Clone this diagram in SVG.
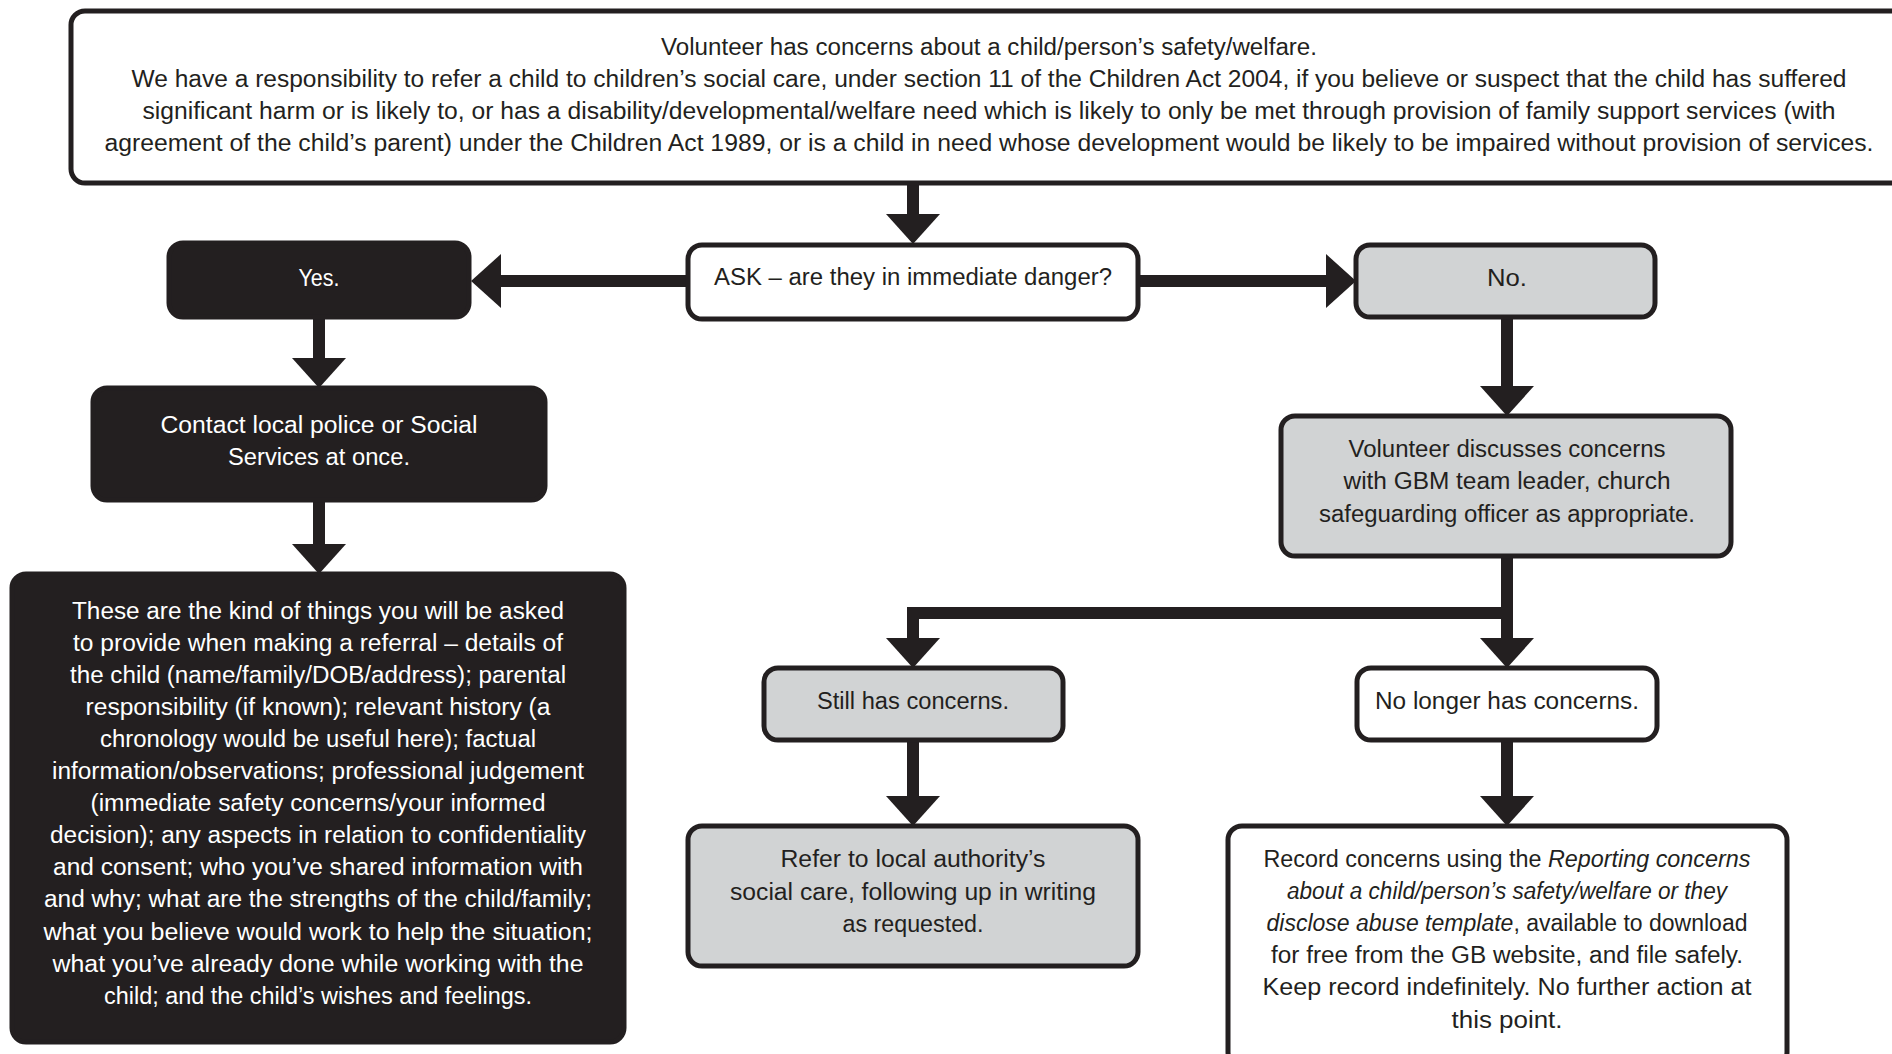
<svg xmlns="http://www.w3.org/2000/svg" width="1892" height="1054" viewBox="0 0 1892 1054">
<style>
.box{stroke:#231f20;stroke-width:5}
.white{fill:#ffffff}
.gray{fill:#d1d3d4}
.dark{fill:#231f20}
text{font-family:"Liberation Sans",Arial,sans-serif;font-size:23px;text-anchor:middle}
.tk{fill:#231f20}
.tw{fill:#ffffff}
.conn{stroke:#231f20;stroke-width:12;fill:none;stroke-linejoin:miter}
</style>
<defs>
<marker id="ah" markerUnits="userSpaceOnUse" markerWidth="32" markerHeight="54" refX="0" refY="27" orient="auto" overflow="visible">
<path d="M0,0 L30,27 L0,54 z" fill="#231f20"/>
</marker>
</defs>
<rect width="1892" height="1054" fill="#ffffff"/>
<g id="connectors">
<line class="conn" x1="913" y1="183" x2="913" y2="214" marker-end="url(#ah)"/>
<line class="conn" x1="688" y1="281" x2="501" y2="281" marker-end="url(#ah)"/>
<line class="conn" x1="1138" y1="281" x2="1326" y2="281" marker-end="url(#ah)"/>
<line class="conn" x1="319" y1="317" x2="319" y2="358" marker-end="url(#ah)"/>
<line class="conn" x1="319" y1="500" x2="319" y2="544" marker-end="url(#ah)"/>
<line class="conn" x1="1507" y1="317" x2="1507" y2="386" marker-end="url(#ah)"/>
<line class="conn" x1="1507" y1="556" x2="1507" y2="638" marker-end="url(#ah)"/>
<path class="conn" d="M1507,613 H913 V638" marker-end="url(#ah)"/>
<line class="conn" x1="913" y1="740" x2="913" y2="796" marker-end="url(#ah)"/>
<line class="conn" x1="1507" y1="740" x2="1507" y2="796" marker-end="url(#ah)"/>
</g>
<g id="top">
<rect class="box white" x="71" y="11" width="1900" height="172" rx="14"/>
<text class="tk" x="989" y="55" textLength="656" lengthAdjust="spacingAndGlyphs">Volunteer has concerns about a child/person’s safety/welfare.</text>
<text class="tk" x="989" y="87" textLength="1715" lengthAdjust="spacingAndGlyphs">We have a responsibility to refer a child to children’s social care, under section 11 of the Children Act 2004, if you believe or suspect that the child has suffered</text>
<text class="tk" x="989" y="119" textLength="1693" lengthAdjust="spacingAndGlyphs">significant harm or is likely to, or has a disability/developmental/welfare need which is likely to only be met through provision of family support services (with</text>
<text class="tk" x="989" y="151" textLength="1769" lengthAdjust="spacingAndGlyphs">agreement of the child’s parent) under the Children Act 1989, or is a child in need whose development would be likely to be impaired without provision of services.</text>
</g>
<g id="ask">
<rect class="box white" x="688" y="245" width="450" height="74" rx="14"/>
<text class="tk" x="913" y="285" textLength="398" lengthAdjust="spacingAndGlyphs">ASK – are they in immediate danger?</text>
</g>
<g id="yes">
<rect class="box dark" x="169" y="243" width="300" height="74" rx="14"/>
<text class="tw" x="319" y="286" textLength="41" lengthAdjust="spacingAndGlyphs">Yes.</text>
</g>
<g id="no">
<rect class="box gray" x="1356" y="245" width="299" height="72" rx="14"/>
<text class="tk" x="1507" y="286" textLength="40" lengthAdjust="spacingAndGlyphs">No.</text>
</g>
<g id="contact">
<rect class="box dark" x="93" y="388" width="452" height="112" rx="14"/>
<text class="tw" x="319" y="433" textLength="317" lengthAdjust="spacingAndGlyphs">Contact local police or Social</text>
<text class="tw" x="319" y="465" textLength="182" lengthAdjust="spacingAndGlyphs">Services at once.</text>
</g>
<g id="referral-details">
<rect class="box dark" x="12" y="574" width="612" height="468" rx="14"/>
<text class="tw" x="318" y="618.5" textLength="492" lengthAdjust="spacingAndGlyphs">These are the kind of things you will be asked</text>
<text class="tw" x="318" y="650.6" textLength="490" lengthAdjust="spacingAndGlyphs">to provide when making a referral – details of</text>
<text class="tw" x="318" y="682.7" textLength="496" lengthAdjust="spacingAndGlyphs">the child (name/family/DOB/address); parental</text>
<text class="tw" x="318" y="714.8" textLength="465" lengthAdjust="spacingAndGlyphs">responsibility (if known); relevant history (a</text>
<text class="tw" x="318" y="746.9" textLength="436" lengthAdjust="spacingAndGlyphs">chronology would be useful here); factual</text>
<text class="tw" x="318" y="779" textLength="532" lengthAdjust="spacingAndGlyphs">information/observations; professional judgement</text>
<text class="tw" x="318" y="811.1" textLength="455" lengthAdjust="spacingAndGlyphs">(immediate safety concerns/your informed</text>
<text class="tw" x="318" y="843.2" textLength="536" lengthAdjust="spacingAndGlyphs">decision); any aspects in relation to confidentiality</text>
<text class="tw" x="318" y="875.3" textLength="530" lengthAdjust="spacingAndGlyphs">and consent; who you’ve shared information with</text>
<text class="tw" x="318" y="907.4" textLength="548" lengthAdjust="spacingAndGlyphs">and why; what are the strengths of the child/family;</text>
<text class="tw" x="318" y="939.5" textLength="549" lengthAdjust="spacingAndGlyphs">what you believe would work to help the situation;</text>
<text class="tw" x="318" y="971.6" textLength="531" lengthAdjust="spacingAndGlyphs">what you’ve already done while working with the</text>
<text class="tw" x="318" y="1003.7" textLength="428" lengthAdjust="spacingAndGlyphs">child; and the child’s wishes and feelings.</text>
</g>
<g id="discuss">
<rect class="box gray" x="1281" y="416" width="450" height="140" rx="14"/>
<text class="tk" x="1507" y="457" textLength="317" lengthAdjust="spacingAndGlyphs">Volunteer discusses concerns</text>
<text class="tk" x="1507" y="489" textLength="327" lengthAdjust="spacingAndGlyphs">with GBM team leader, church</text>
<text class="tk" x="1507" y="522" textLength="376" lengthAdjust="spacingAndGlyphs">safeguarding officer as appropriate.</text>
</g>
<g id="still">
<rect class="box gray" x="764" y="668" width="299" height="72" rx="14"/>
<text class="tk" x="913" y="709" textLength="192" lengthAdjust="spacingAndGlyphs">Still has concerns.</text>
</g>
<g id="nolonger">
<rect class="box white" x="1357" y="668" width="300" height="72" rx="14"/>
<text class="tk" x="1507" y="709" textLength="264" lengthAdjust="spacingAndGlyphs">No longer has concerns.</text>
</g>
<g id="refer">
<rect class="box gray" x="688" y="826" width="450" height="140" rx="14"/>
<text class="tk" x="913" y="867" textLength="265" lengthAdjust="spacingAndGlyphs">Refer to local authority’s</text>
<text class="tk" x="913" y="900" textLength="366" lengthAdjust="spacingAndGlyphs">social care, following up in writing</text>
<text class="tk" x="913" y="932" textLength="141" lengthAdjust="spacingAndGlyphs">as requested.</text>
</g>
<g id="record">
<rect class="box white" x="1228" y="826" width="559" height="240" rx="14"/>
<text class="tk" x="1507" y="867" textLength="487" lengthAdjust="spacingAndGlyphs">Record concerns using the <tspan font-style="italic">Reporting concerns</tspan></text>
<text class="tk" x="1507" y="899" font-style="italic" textLength="440" lengthAdjust="spacingAndGlyphs">about a child/person’s safety/welfare or they</text>
<text class="tk" x="1507" y="931" textLength="481" lengthAdjust="spacingAndGlyphs"><tspan font-style="italic">disclose abuse template</tspan>, available to download</text>
<text class="tk" x="1507" y="963" textLength="472" lengthAdjust="spacingAndGlyphs">for free from the GB website, and file safely.</text>
<text class="tk" x="1507" y="995" textLength="489" lengthAdjust="spacingAndGlyphs">Keep record indefinitely. No further action at</text>
<text class="tk" x="1507" y="1028" textLength="111" lengthAdjust="spacingAndGlyphs">this point.</text>
</g>
</svg>
